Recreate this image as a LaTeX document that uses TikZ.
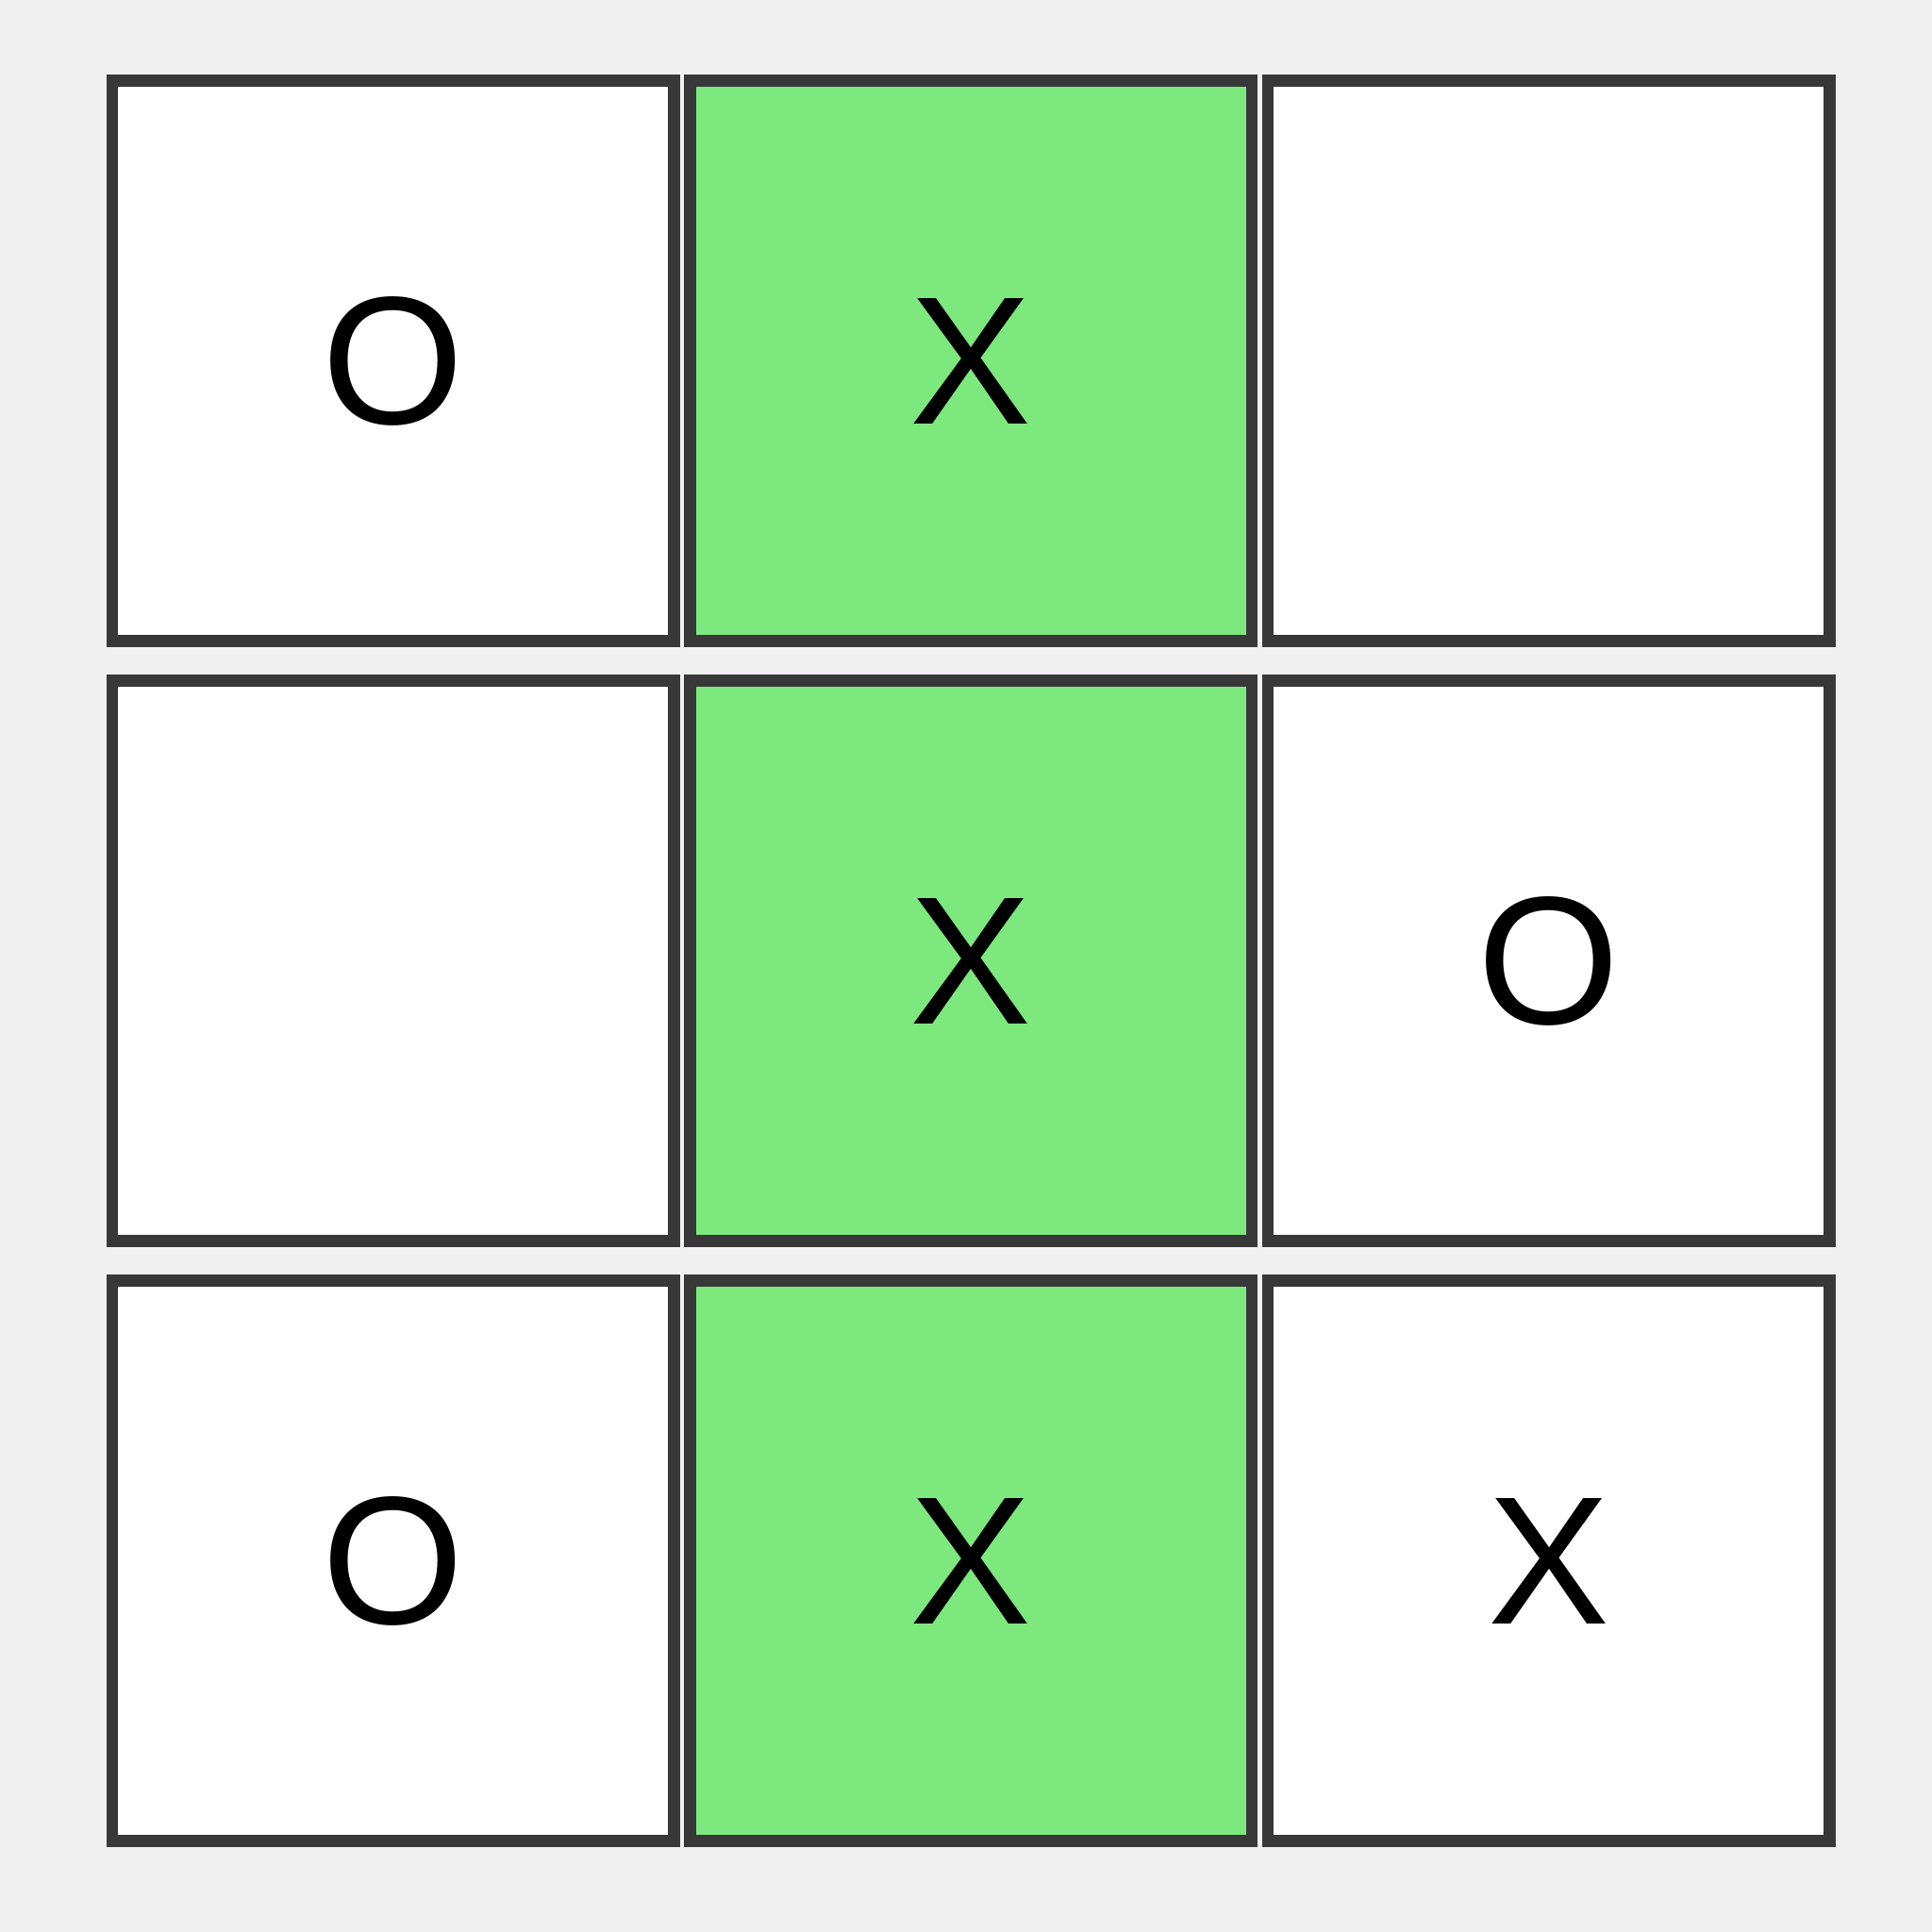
\documentclass[tikz,border=0pt]{standalone}
\usepackage{fontspec}
\setmainfont{Liberation Sans}
\definecolor{winGreen}{RGB}{125,232,125}
\definecolor{cellBorder}{RGB}{56,56,56}
\definecolor{boardBack}{RGB}{240,240,240}
\newcommand\boardSize{20.48}
\newcommand\cellW{5.955}
\newcommand\cellH{5.94}
\newcommand\colDis{6.125}
\newcommand\rowDis{6.36}
\newcommand\firstX{4.1675}
\newcommand\firstY{3.825}
\tikzset{cell/.style={draw=cellBorder, line width=0.125cm, fill=white, inner sep=0pt,
    minimum width=\cellW cm, minimum height=\cellH cm, font=\fontsize{55}{60}\selectfont}}

\begin{document}
\begin{tikzpicture}[y=-1cm]
    \fill[boardBack] (0,0) rectangle (\boardSize,\boardSize);
    \useasboundingbox (0,0) rectangle (\boardSize,\boardSize);

    % the board, row by row
    \foreach \Rnumber/\Cnumber/\Mark/\Fill in {1/1/O/white, 1/2/X/winGreen, 1/3/{}/white,
                                                2/1/{}/white, 2/2/X/winGreen, 2/3/O/white,
                                                3/1/O/white, 3/2/X/winGreen, 3/3/X/white}{
      \node[cell, fill=\Fill] (c\Rnumber\Cnumber) at (\firstX+\colDis*\Cnumber-\colDis, \firstY+\rowDis*\Rnumber-\rowDis) {\Mark};
    }
\end{tikzpicture}
\end{document}
